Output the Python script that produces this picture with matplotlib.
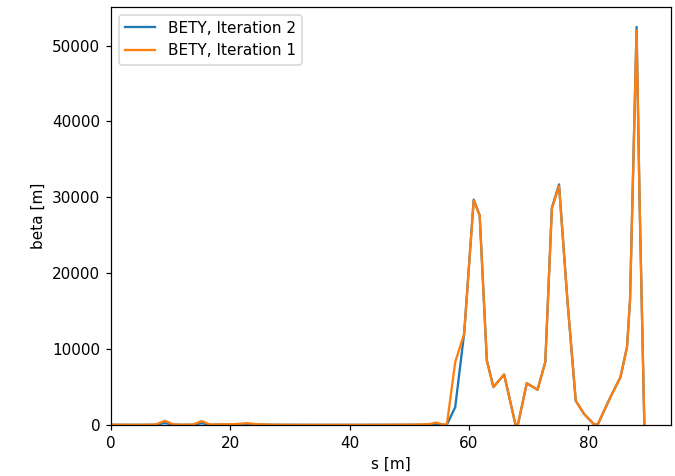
"""Beta function along the beamline for two optimisation iterations."""

import matplotlib
matplotlib.use("Agg")
import matplotlib.pyplot as plt

# longitudinal position [m]
s = [0.0, 2.0, 4.0, 6.0, 7.5, 9.0, 10.5, 12.0, 13.7, 15.2, 16.6, 18.5,
     20.5, 22.8, 24.8, 27.0, 30.0, 35.0, 40.0, 45.0, 50.0, 53.2, 54.5,
     55.6, 56.3, 57.7, 59.2, 60.8, 61.8, 63.0, 64.1, 65.9, 67.8, 68.2,
     69.7, 71.5, 72.8, 73.9, 75.1, 76.5, 77.9, 79.3, 81.0, 81.6, 83.7,
     85.4, 86.5, 87.0, 88.1, 88.6, 89.4]

# BETY after the second iteration [m]
bety_iter2 = [35, 30, 25, 30, 45, 250, 55, 30, 40, 230, 45, 60,
              80, 150, 60, 35, 25, 20, 20, 25, 35, 60, 150,
              40, 30, 2350, 12100, 29700, 27600, 8500, 5000, 6650, 60, 20,
              5500, 4650, 8300, 28600, 31700, 16500, 3200, 1450, 60, 80, 3650,
              6300, 10300, 16400, 52450, 29600, 0]

# BETY after the first iteration [m]
bety_iter1 = [35, 30, 25, 30, 60, 560, 70, 35, 50, 520, 60, 80,
              110, 230, 90, 40, 25, 20, 20, 25, 40, 90, 320,
              60, 40, 8300, 12000, 29600, 27600, 8500, 5000, 6650, 60, 20,
              5500, 4650, 8300, 28500, 31500, 16500, 3200, 1450, 60, 80, 3650,
              6300, 10300, 16400, 52000, 29600, 0]

fig = plt.figure(figsize=(675 / 110, 476 / 110), dpi=110)
ax = fig.add_axes([111 / 675, 51 / 476, 560 / 675, 418 / 476])

ax.plot(s, bety_iter2, label="BETY, Iteration 2")
ax.plot(s, bety_iter1, label="BETY, Iteration 1")

ax.set_xlim(left=0)
ax.set_ylim(bottom=0)
ax.set_xlabel("s [m]")
ax.set_ylabel("beta [m]")
ax.legend(loc="upper left")

fig.savefig("out.png", dpi=110)
